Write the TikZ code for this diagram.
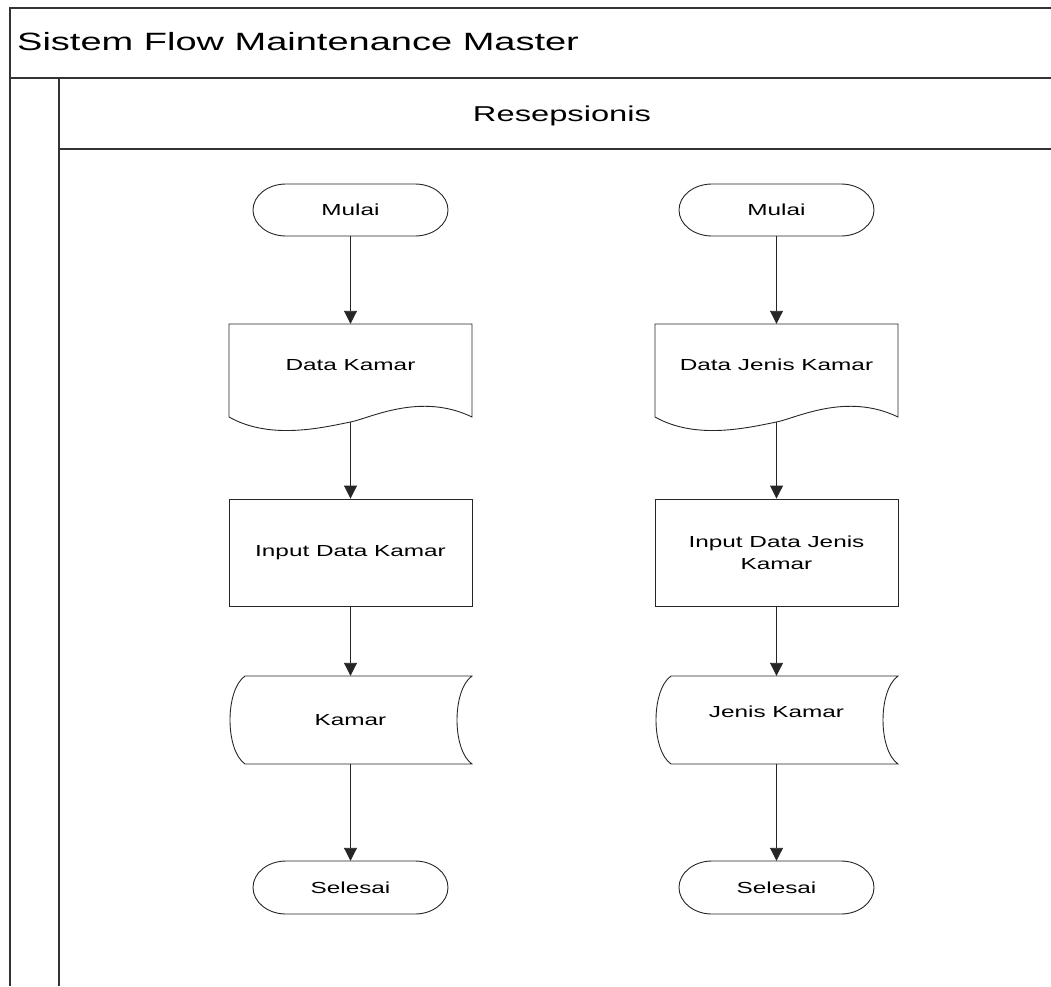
\documentclass[tikz,border=0pt]{standalone}
\usepackage{fontspec}
\setmainfont[FakeStretch=1.52]{Liberation Sans}
\usetikzlibrary{arrows.meta}
\begin{document}
\begin{tikzpicture}[x=1pt,y=-1pt,
  frame/.style={line width=1.3pt, draw=black!80},
  outline/.style={line width=0.9pt, draw=black!85},
  flowtext/.style={font=\fontsize{16}{22}\selectfont, inner sep=0pt, align=center},
  flow/.style={line width=0.9pt, draw=black!85, -{Triangle[width=13pt,length=13pt]}},
  term/.style={flowtext, minimum width=195pt, minimum height=52pt},
  docbox/.style={flowtext, minimum width=243pt, minimum height=82pt},
  procbox/.style={flowtext, outline, draw, minimum width=243pt, minimum height=107pt},
  storebox/.style={flowtext, minimum width=243pt, minimum height=88pt}]
\useasboundingbox (0,0) rectangle (1051,986);

% pool and lane frame
\draw[frame] (1051,8) -- (10,8) -- (10,986);
\draw[frame] (10,78) -- (1051,78);
\draw[frame] (59,78) -- (59,986);
\draw[frame] (59,149) -- (1051,149);
\node[anchor=base west, inner sep=0pt, font=\fontsize{25}{29}\selectfont] (pool) at (17,50) {Sistem Flow Maintenance Master};
\node[anchor=base, inner sep=0pt, font=\fontsize{21.5}{26}\selectfont] (lane) at (562,121.7) {Resepsionis};

% left column: room data
\begin{scope}[xshift=350.5pt]
  \draw[outline] (-64.5,184) -- (64.5,184) arc[start angle=-90,end angle=90,x radius=33,y radius=26]
     -- (-64.5,236) arc[start angle=90,end angle=270,x radius=33,y radius=26] -- cycle;
  \node[term] (lstart) at (0,210) {Mulai};
  \draw[outline] (-121.5,417) -- (-121.5,324) -- (121.5,324) -- (121.5,417)
     .. controls (70,392) and (20,418) .. (0,422)
     .. controls (-30,428) and (-80.5,440) .. (-121.5,417);
  \node[docbox] (ldoc) at (0,365) {Data Kamar};
  \coordinate (ldocw) at (0,422);
  \node[procbox] (lproc) at (0,552.5) {Input Data Kamar};
  \draw[outline] (-105.5,676) -- (121.5,676) .. controls (101.5,690) and (101.5,750) .. (121.5,764)
     -- (-105.5,764) .. controls (-125.5,750) and (-125.5,690) .. cycle;
  \node[storebox] (lstore) at (0,720) {Kamar};
  \draw[outline] (-64.5,861) -- (64.5,861) arc[start angle=-90,end angle=90,x radius=33,y radius=26.5]
     -- (-64.5,914) arc[start angle=90,end angle=270,x radius=33,y radius=26.5] -- cycle;
  \node[term, minimum height=53pt] (lend) at (0,887.5) {Selesai};
\end{scope}

% right column: room type data
\begin{scope}[xshift=776.5pt]
  \draw[outline] (-64.5,184) -- (64.5,184) arc[start angle=-90,end angle=90,x radius=33,y radius=26]
     -- (-64.5,236) arc[start angle=90,end angle=270,x radius=33,y radius=26] -- cycle;
  \node[term] (rstart) at (0,210) {Mulai};
  \draw[outline] (-121.5,417) -- (-121.5,324) -- (121.5,324) -- (121.5,417)
     .. controls (70,392) and (20,418) .. (0,422)
     .. controls (-30,428) and (-80.5,440) .. (-121.5,417);
  \node[docbox] (rdoc) at (0,365) {Data Jenis Kamar};
  \coordinate (rdocw) at (0,422);
  \node[procbox] (rproc) at (0,552.5) {Input Data Jenis\\Kamar};
  \draw[outline] (-105.5,676) -- (121.5,676) .. controls (101.5,690) and (101.5,750) .. (121.5,764)
     -- (-105.5,764) .. controls (-125.5,750) and (-125.5,690) .. cycle;
  \node[storebox] (rstore) at (0,720) {\raisebox{8pt}[\height][\depth]{Jenis Kamar}};
  \draw[outline] (-64.5,861) -- (64.5,861) arc[start angle=-90,end angle=90,x radius=33,y radius=26.5]
     -- (-64.5,914) arc[start angle=90,end angle=270,x radius=33,y radius=26.5] -- cycle;
  \node[term, minimum height=53pt] (rend) at (0,887.5) {Selesai};
\end{scope}

% connectors
\draw[flow] (lstart) -- (ldoc);
\draw[flow] (ldocw) -- (lproc);
\draw[flow] (lproc) -- (lstore);
\draw[flow] (lstore) -- (lend);
\draw[flow] (rstart) -- (rdoc);
\draw[flow] (rdocw) -- (rproc);
\draw[flow] (rproc) -- (rstore);
\draw[flow] (rstore) -- (rend);
\end{tikzpicture}
\end{document}
